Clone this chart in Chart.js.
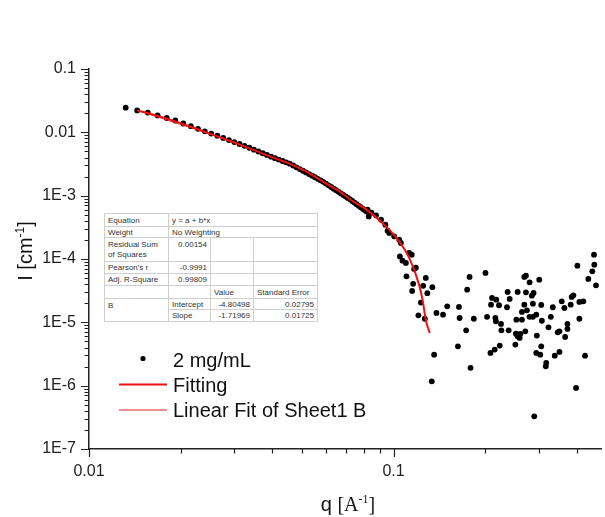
<!DOCTYPE html>
<html>
<head>
<meta charset="utf-8">
<script src="https://cdn.jsdelivr.net/npm/chart.js@4.4.1/dist/chart.umd.min.js"></script>
<style>
  body { margin: 0; background: #fff; }
  #wrap { position: relative; width: 605px; height: 517px; }
  #fitTable {
    position: absolute; left: 104px; top: 213px; width: 213px;
    border-collapse: collapse; table-layout: fixed;
    font-family: "Liberation Sans", Arial, sans-serif; font-size: 8px; line-height: 9px;
    color: #333; background: #fff; border: 1px solid #999;
  }
  #fitTable td { border: 1px solid #cfcfcf; padding: 0 3px; white-space: nowrap; overflow: hidden; vertical-align: middle; }
  #fitTable td.r { text-align: right; }
  #fitTable td.top { vertical-align: top; padding-top: 2px; white-space: normal; line-height: 10px; }
</style>
</head>
<body>
<div id="wrap">
  <canvas id="chart" width="605" height="517"></canvas>
  <table id="fitTable">
    <colgroup><col style="width:64px"><col style="width:42px"><col style="width:43px"><col style="width:64px"></colgroup>
    <tr style="height:13px"><td>Equation</td><td colspan="3">y = a + b*x</td></tr>
    <tr style="height:11px"><td>Weight</td><td colspan="3">No Weighting</td></tr>
    <tr style="height:24px"><td class="top">Residual Sum of Squares</td><td class="r top">0.00154</td><td></td><td></td></tr>
    <tr style="height:12px"><td>Pearson's r</td><td class="r">-0.9991</td><td></td><td></td></tr>
    <tr style="height:12px"><td>Adj. R-Square</td><td class="r">0.99809</td><td></td><td></td></tr>
    <tr style="height:13px"><td></td><td></td><td>Value</td><td>Standard Error</td></tr>
    <tr style="height:11px"><td rowspan="2" class="top">B</td><td>Intercept</td><td class="r">-4.80498</td><td class="r">0.02795</td></tr>
    <tr style="height:12px"><td>Slope</td><td class="r">-1.71969</td><td class="r">0.01725</td></tr>
  </table>
</div>
<script>
// measured curve, q in 1/A and I in 1/cm
const denseQ = [0.0132, 0.0144, 0.0156, 0.0168, 0.0180, 0.0192, 0.0204, 0.0216, 0.0228, 0.0240,
  0.0252, 0.0264, 0.0276, 0.0288, 0.0300, 0.0312, 0.0324, 0.0336, 0.0348, 0.0360,
  0.0372, 0.0384, 0.0396, 0.0408, 0.0420, 0.0432, 0.0444, 0.0456, 0.0468, 0.0480,
  0.0492, 0.0504, 0.0516, 0.0528, 0.0540, 0.0552, 0.0564, 0.0576, 0.0588, 0.0600,
  0.0612, 0.0624, 0.0636, 0.0648, 0.0660, 0.0672, 0.0684, 0.0696, 0.0708, 0.0720,
  0.0732, 0.0744, 0.0756, 0.0768, 0.0780, 0.0792, 0.0804, 0.0816];
const denseI = [0.02449, 0.02221, 0.02050, 0.01852, 0.01684, 0.01538, 0.01379, 0.01251, 0.01134, 0.01039,
  0.009556, 0.008855, 0.008174, 0.007543, 0.007016, 0.006549, 0.006134, 0.005709, 0.005327, 0.004983,
  0.004674, 0.004391, 0.004132, 0.003907, 0.003709, 0.003527, 0.003358, 0.003203, 0.002996, 0.002805,
  0.002630, 0.002472, 0.002326, 0.002192, 0.002067, 0.001953, 0.001847, 0.001749, 0.001652, 0.001550,
  0.001457, 0.001371, 0.001290, 0.001217, 0.001149, 0.001085, 0.001026, 0.000972, 0.000921, 0.000874,
  0.000823, 0.000777, 0.000735, 0.000695, 0.000658, 0.000624, 0.000592, 0.000562];

const kneeQ = [0.0822, 0.0846, 0.0829, 0.0876, 0.0910, 0.0940, 0.0956, 0.0968, 0.1005, 0.1044,
  0.1057, 0.1049, 0.1125, 0.1148, 0.1070, 0.1098, 0.1184, 0.1169, 0.1103, 0.1276,
  0.1160, 0.1251, 0.1341, 0.1291, 0.1151, 0.1229, 0.1207, 0.1267];
const kneeI = [6.01e-4, 5.39e-4, 4.71e-4, 4.89e-4, 4.18e-4, 3.48e-4, 2.80e-4, 2.58e-4, 2.28e-4, 2.02e-4,
  1.79e-4, 1.10e-4, 1.25e-4, 1.17e-4, 9.42e-5, 8.66e-5, 7.30e-5, 6.97e-5, 5.32e-5, 5.02e-5,
  4.05e-5, 3.77e-5, 3.59e-5, 2.89e-5, 3.13e-5, 2.05e-5, 1.29e-5, 1.14e-5];

const tailQ = [0.1335, 0.1359, 0.1383, 0.1454, 0.1501, 0.1627, 0.1640, 0.1648, 0.1732, 0.1745,
  0.1777, 0.1790, 0.1835, 0.2004, 0.2028, 0.2081, 0.2090, 0.2106, 0.2149, 0.2160,
  0.2168, 0.2174, 0.2220, 0.2232, 0.2254, 0.2260, 0.2358, 0.2370, 0.2388, 0.2406,
  0.2512, 0.2523, 0.2531, 0.2556, 0.2556, 0.2595, 0.2608, 0.2640, 0.2640, 0.2688,
  0.2688, 0.2708, 0.2721, 0.2721, 0.2741, 0.2797, 0.2797, 0.2846, 0.2868, 0.2868,
  0.2883, 0.2898, 0.2942, 0.2942, 0.2955, 0.3009, 0.3032, 0.3055, 0.3055, 0.3069,
  0.3162, 0.3172, 0.3227, 0.3284, 0.3334, 0.3384, 0.3461, 0.3506, 0.3506, 0.3567,
  0.3640, 0.3660, 0.3724, 0.3724, 0.3817, 0.3846, 0.3896, 0.3976, 0.4015, 0.4076,
  0.4076, 0.4200, 0.4254, 0.4361, 0.4495, 0.4552, 0.4563, 0.4622];
const tailI = [1.17e-6, 3.09e-6, 1.41e-5, 1.32e-5, 1.79e-5, 4.18e-6, 1.75e-5, 1.17e-5, 7.47e-6, 3.28e-5,
  5.21e-5, 1.91e-6, 1.14e-5, 6.02e-5, 1.22e-5, 3.29e-6, 1.90e-5, 2.43e-5, 3.71e-6, 1.17e-5,
  1.04e-5, 2.28e-5, 1.86e-5, 4.29e-6, 9.44e-6, 7.47e-6, 1.73e-5, 3.02e-5, 7.47e-6, 2.34e-5,
  4.45e-6, 6.63e-6, 1.10e-5, 3.02e-5, 6.01e-6, 5.67e-6, 6.56e-6, 1.46e-5, 1.10e-5, 5.21e-5,
  1.90e-5, 7.21e-6, 5.46e-5, 2.98e-5, 1.55e-5, 4.28e-5, 1.22e-5, 2.64e-5, 1.97e-5, 1.22e-5,
  2.91e-5, 3.28e-7, 1.32e-5, 3.29e-6, 6.17e-6, 4.72e-5, 3.09e-6, 1.88e-5, 4.18e-6, 1.06e-5,
  2.02e-6, 2.29e-6, 8.34e-6, 1.22e-5, 1.73e-5, 2.98e-6, 6.95e-6, 7.21e-6, 3.41e-6, 2.15e-5,
  1.69e-5, 5.88e-6, 9.44e-6, 7.87e-6, 1.90e-5, 2.52e-5, 2.67e-5, 9.21e-7, 7.85e-5, 2.10e-5,
  1.14e-5, 2.15e-5, 2.98e-6, 4.84e-5, 6.39e-5, 1.17e-4, 8.15e-5, 3.84e-5];

const fitQ = [0.0144, 0.0166, 0.0189, 0.0225, 0.0260, 0.0313, 0.0401, 0.0456, 0.0519, 0.0585,
  0.0665, 0.0717, 0.0815, 0.0919, 0.1044, 0.1126, 0.1213, 0.1245, 0.1279, 0.1315];
const fitI = [0.0222, 0.0185, 0.0153, 0.0114, 0.00886, 0.00639, 0.00402, 0.00320, 0.00237, 0.00168,
  0.00117, 0.000887, 0.000601, 0.000371, 0.000190, 0.000104, 3.94e-5, 2.28e-5, 1.04e-5, 6.8e-6];

// the straight fit sits under the red curve at low q
const linQ = [0.0144, 0.0260];
const linI = [0.0222, 0.00886];

const xMajor = [0.01, 0.1];
const xTickLabels = ['0.01', '0.1'];
const yMajor = [1e-7, 1e-6, 1e-5, 1e-4, 1e-3, 0.01, 0.1];
const yTickLabels = ['1E-7', '1E-6', '1E-5', '1E-4', '1E-3', '0.01', '0.1'];

const SANS = '"Liberation Sans", Arial, sans-serif';
const SERIF = '"Liberation Serif", "Times New Roman", serif';
Chart.defaults.font.family = SANS;
Chart.defaults.color = '#222';

function pairs(xs, ys) {
  return xs.map((x, i) => ({ x: x, y: ys[i] }));
}

// outward tick marks, long for decades and short for 2..9
const tickMarks = {
  id: 'tickMarks',
  afterDraw(chart) {
    const ctx = chart.ctx;
    const xs = chart.scales.x, ys = chart.scales.y;
    const area = chart.chartArea;
    ctx.save();
    ctx.strokeStyle = '#222';
    ctx.lineWidth = 1.2;
    ctx.beginPath();
    xMajor.forEach(d => {
      const px = Math.round(xs.getPixelForValue(d)) + 0.5;
      ctx.moveTo(px, area.bottom); ctx.lineTo(px, area.bottom + 8);
      for (let m = 2; m <= 9; m++) {
        if (m * d > xs.max) break;
        const p = Math.round(xs.getPixelForValue(m * d)) + 0.5;
        ctx.moveTo(p, area.bottom); ctx.lineTo(p, area.bottom + 4.5);
      }
    });
    yMajor.forEach(d => {
      const py = Math.round(ys.getPixelForValue(d)) + 0.5;
      ctx.moveTo(area.left, py); ctx.lineTo(area.left - 8, py);
      for (let m = 2; m <= 9; m++) {
        if (m * d > ys.max) break;
        const p = Math.round(ys.getPixelForValue(m * d)) + 0.5;
        ctx.moveTo(area.left, p); ctx.lineTo(area.left - 4.5, p);
      }
    });
    ctx.stroke();
    ctx.restore();
  }
};

function drawParts(ctx, parts, x0, y0) {
  let x = x0;
  parts.forEach(p => {
    ctx.font = p.font;
    ctx.fillText(p.text, x, y0 + (p.dy || 0));
    x += ctx.measureText(p.text).width;
  });
}
function partsWidth(ctx, parts) {
  let w = 0;
  parts.forEach(p => { ctx.font = p.font; w += ctx.measureText(p.text).width; });
  return w;
}

const axisTitles = {
  id: 'axisTitles',
  afterDraw(chart) {
    const ctx = chart.ctx;
    ctx.save();
    ctx.fillStyle = '#111';
    ctx.textBaseline = 'alphabetic';
    ctx.textAlign = 'left';
    const xParts = [
      { text: 'q ', font: '20px ' + SANS },
      { text: '[A', font: '20px ' + SERIF },
      { text: '-1', font: '12px ' + SERIF, dy: -8 },
      { text: ']', font: '20px ' + SERIF }
    ];
    drawParts(ctx, xParts, 348 - partsWidth(ctx, xParts) / 2, 511);
    const yParts = [
      { text: 'I [cm', font: '20px ' + SANS },
      { text: '-1', font: '12px ' + SANS, dy: -8 },
      { text: ']', font: '20px ' + SANS }
    ];
    ctx.translate(32, 251);
    ctx.rotate(-Math.PI / 2);
    drawParts(ctx, yParts, -partsWidth(ctx, yParts) / 2, 0);
    ctx.restore();
  }
};

const legendBox = {
  id: 'legendBox',
  afterDraw(chart) {
    const ctx = chart.ctx;
    const baselines = [366.5, 391.5, 417];
    ctx.save();
    ctx.font = '20px ' + SANS;
    ctx.textBaseline = 'alphabetic';
    chart.data.datasets.forEach((ds, i) => {
      const yb = baselines[i];
      const yc = yb - 7;
      if (ds.showLine) {
        ctx.strokeStyle = ds.borderColor;
        ctx.lineWidth = ds.borderWidth;
        ctx.beginPath();
        ctx.moveTo(119, yc); ctx.lineTo(167, yc);
        ctx.stroke();
      } else {
        ctx.fillStyle = ds.backgroundColor;
        ctx.beginPath();
        ctx.arc(143, yc - 1, 2.6, 0, Math.PI * 2);
        ctx.fill();
      }
      ctx.fillStyle = '#111';
      ctx.fillText(ds.label, 173, yb);
    });
    ctx.restore();
  }
};

new Chart(document.getElementById('chart'), {
  type: 'scatter',
  data: {
    datasets: [
      {
        label: '2 mg/mL',
        data: pairs(denseQ, denseI).concat(pairs(kneeQ, kneeI), pairs(tailQ, tailI)),
        backgroundColor: '#000',
        borderWidth: 0,
        pointRadius: 2.9,
        order: 3
      },
      {
        label: 'Fitting',
        data: pairs(fitQ, fitI),
        showLine: true,
        borderColor: '#ee1111',
        borderWidth: 2,
        pointRadius: 0,
        cubicInterpolationMode: 'monotone',
        order: 1
      },
      {
        label: 'Linear Fit of Sheet1 B',
        data: pairs(linQ, linI),
        showLine: true,
        borderColor: '#e52020',
        borderWidth: 1,
        pointRadius: 0,
        order: 2
      }
    ]
  },
  options: {
    responsive: false,
    animation: false,
    events: [],
    layout: { padding: { left: 0, top: 69, right: 2, bottom: 0 } },
    plugins: { legend: { display: false }, tooltip: { enabled: false } },
    scales: {
      x: {
        type: 'logarithmic',
        min: 0.01,
        max: 0.48,
        grid: { display: false, drawTicks: false },
        border: { display: true, color: '#222', width: 1.5 },
        afterBuildTicks: s => { s.ticks = xMajor.map(v => ({ value: v })); },
        afterFit: s => { s.height = 68; },
        ticks: {
          autoSkip: false,
          maxRotation: 0,
          padding: 13,
          font: { size: 16 },
          color: '#222',
          callback: (v, i) => xTickLabels[i]
        }
      },
      y: {
        type: 'logarithmic',
        min: 1e-7,
        max: 0.1,
        grid: { display: false, drawTicks: false },
        border: { display: true, color: '#222', width: 1.5 },
        afterBuildTicks: s => { s.ticks = yMajor.map(v => ({ value: v })); },
        afterFit: s => { s.width = 89; },
        ticks: {
          autoSkip: false,
          padding: 13,
          font: { size: 16 },
          color: '#222',
          callback: (v, i) => yTickLabels[i]
        }
      }
    }
  },
  plugins: [tickMarks, axisTitles, legendBox]
});
</script>
</body>
</html>
